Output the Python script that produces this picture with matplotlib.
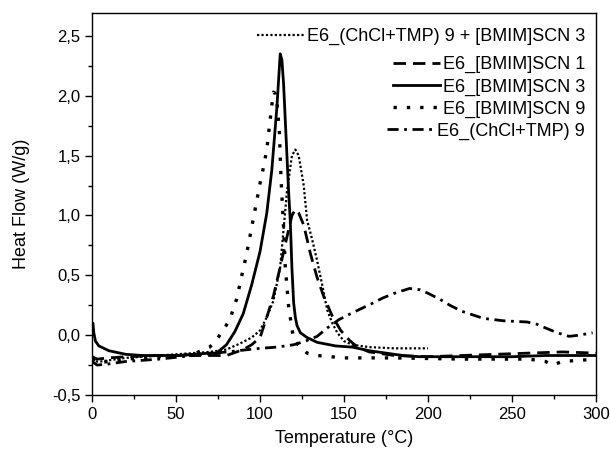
import matplotlib
matplotlib.use("Agg")
import matplotlib.pyplot as plt
from matplotlib.ticker import MultipleLocator, FuncFormatter

plt.rcParams['font.family'] = ['Liberation Sans', 'DejaVu Sans']

# --- data ---
labels = [
    "E6_(ChCl+TMP) 9 + [BMIM]SCN 3",
    "E6_[BMIM]SCN 1",
    "E6_[BMIM]SCN 3",
    "E6_[BMIM]SCN 9",
    "E6_(ChCl+TMP) 9",
]

t_mix = [0, 2, 5, 10, 20, 30, 40, 50, 60, 70, 80, 88, 95, 100, 104, 108, 112, 116,
         119, 121, 123, 126, 128, 131, 134, 137, 140, 143, 146, 150, 155, 165, 180, 200]
v_mix = [-0.2, -0.22, -0.22, -0.21, -0.19, -0.18, -0.17, -0.16, -0.15, -0.14, -0.12,
         -0.07, -0.02, 0.04, 0.15, 0.29, 0.57, 1.2, 1.5, 1.55, 1.5, 1.25, 0.96, 0.8,
         0.62, 0.42, 0.21, 0.1, 0.02, -0.05, -0.08, -0.1, -0.11, -0.11]

t_b1 = [0, 3, 10, 20, 40, 60, 80, 90, 95, 100, 104, 108, 112, 116, 119, 121, 123, 126,
        130, 134, 138, 143, 148, 153, 158, 165, 180, 200, 220, 240, 260, 280, 300]
v_b1 = [-0.18, -0.2, -0.19, -0.18, -0.17, -0.17, -0.17, -0.12, -0.08, -0.02, 0.15,
        0.33, 0.57, 0.82, 1.0, 1.05, 1.02, 0.92, 0.68, 0.48, 0.32, 0.16, 0.04, -0.04,
        -0.1, -0.14, -0.17, -0.18, -0.17, -0.16, -0.15, -0.14, -0.15]

t_b3 = [0, 0.5, 1, 2, 4, 7, 10, 20, 30, 40, 50, 60, 70, 74, 80, 85, 90, 95, 100, 104,
        107, 110, 112, 113, 114, 115, 116, 117, 118, 119, 120, 121, 122, 124, 128, 134,
        145, 155, 165, 175, 185, 195, 210, 230, 250, 270, 300]
v_b3 = [0.1, 0.1, 0.02, -0.05, -0.09, -0.11, -0.13, -0.16, -0.17, -0.17, -0.17, -0.16,
        -0.15, -0.15, -0.08, 0.03, 0.18, 0.42, 0.7, 1.02, 1.38, 1.9, 2.35, 2.3, 2.1,
        1.8, 1.5, 1.2, 0.95, 0.55, 0.27, 0.15, 0.08, 0.02, -0.02, -0.06, -0.09, -0.1,
        -0.13, -0.15, -0.17, -0.18, -0.18, -0.18, -0.18, -0.17, -0.17]

t_b9 = [0, 3, 10, 20, 40, 60, 70, 74, 78, 82, 86, 89, 92, 95, 98, 100, 102, 104, 106,
        107, 108, 109, 110, 111.5, 112.5, 114, 115, 117, 120, 124, 128, 134, 150, 180,
        220, 260, 270, 274, 280, 290, 300]
v_b9 = [-0.2, -0.23, -0.22, -0.2, -0.18, -0.16, -0.1, -0.04, 0.04, 0.13, 0.3, 0.49,
        0.68, 0.9, 1.12, 1.27, 1.4, 1.55, 1.8, 1.92, 2.03, 2.02, 1.95, 1.7, 1.3, 0.9,
        0.57, 0.24, -0.04, -0.1, -0.15, -0.17, -0.19, -0.19, -0.2, -0.2, -0.22, -0.25,
        -0.22, -0.21, -0.2]

t_ch = [0, 3, 10, 20, 40, 60, 80, 100, 110, 120, 127, 134, 140, 147, 154, 160, 166,
        173, 180, 189, 195, 200, 207, 213, 220, 233, 245, 259, 265, 270, 277, 284, 290, 298]
v_ch = [-0.22, -0.25, -0.24, -0.22, -0.2, -0.17, -0.14, -0.11, -0.1, -0.08, -0.05,
        -0.01, 0.06, 0.13, 0.18, 0.22, 0.26, 0.31, 0.35, 0.39, 0.38, 0.35, 0.3, 0.25,
        0.2, 0.14, 0.12, 0.11, 0.09, 0.06, 0.02, -0.01, 0.0, 0.02]

x_ticks = [0, 50, 100, 150, 200, 250, 300]
y_ticks = [-0.5, 0.0, 0.5, 1.0, 1.5, 2.0, 2.5]

fig = plt.figure(figsize=(6.10, 4.53), dpi=100)
ax = fig.add_axes([0.151, 0.128, 0.826, 0.843])

h0, = ax.plot(t_mix, v_mix, color='black', lw=1.6, dashes=(1, 1), label=labels[0])
h1, = ax.plot(t_b1, v_b1, color='black', lw=2.0, dashes=(4.5, 2.5), label=labels[1])
h2, = ax.plot(t_b3, v_b3, color='black', lw=2.0, linestyle='-', label=labels[2])
h3, = ax.plot(t_b9, v_b9, color='black', lw=2.4, dashes=(1, 3), label=labels[3])
h4, = ax.plot(t_ch, v_ch, color='black', lw=2.0, dashes=(4, 2, 1, 2), label=labels[4])

ax.set_xlim(0, 300)
ax.set_ylim(-0.5, 2.69)
ax.set_xticks(x_ticks)
ax.set_yticks(y_ticks)
ax.xaxis.set_minor_locator(MultipleLocator(25))
ax.yaxis.set_minor_locator(MultipleLocator(0.25))
ax.yaxis.set_major_formatter(FuncFormatter(lambda v, p: f"{v:.1f}".replace('.', ',')))
ax.tick_params(which='both', direction='out', width=1.0, labelsize=12, top=False, right=False)
ax.tick_params(which='major', length=5)
ax.tick_params(which='minor', length=3)
for s in ax.spines.values():
    s.set_linewidth(1.0)

ax.set_xlabel("Temperature (°C)", fontsize=13, labelpad=6)
ax.set_ylabel("Heat Flow (W/g)", fontsize=13, labelpad=16)

common = dict(frameon=False, fontsize=13, handlelength=2.6, handletextpad=0.15,
              labelspacing=0.27, borderaxespad=0.0, borderpad=0.0, loc='upper right')
leg1 = ax.legend(handles=[h0], bbox_to_anchor=(0.978, 0.961), **common)
ax.add_artist(leg1)
leg2 = ax.legend(handles=[h1, h2, h3, h4], bbox_to_anchor=(0.978, 0.887), **common)
for leg in (leg1, leg2):
    for vp in leg._legend_handle_box.get_children():
        vp.align = 'right'

fig.savefig("out.png", dpi=100)
